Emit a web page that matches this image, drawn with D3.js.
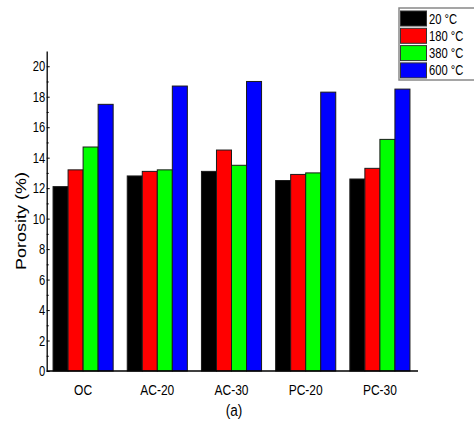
<!DOCTYPE html>
<html>
<head>
<meta charset="utf-8">
<script src="https://cdn.jsdelivr.net/npm/d3@7"></script>
<style>
	body { margin: 0; background: #fff; }
	svg { display: block; font-family: "Liberation Sans", Arial, sans-serif; font-weight: normal; }
</style>
</head>
<body>
<div class="c-svg"></div>
<script>
//DATA
//-------------------------------------------------------------------------

const categories = ["OC", "AC-20", "AC-30", "PC-20", "PC-30"];
const seriesNames = ["20 °C", "180 °C", "380 °C", "600 °C"];
const seriesColors = ["#000000", "#ff0000", "#00ff00", "#0000ff"];

const t20 = [12.1, 12.8, 13.1, 12.5, 12.6];
const t180 = [13.2, 13.1, 14.5, 12.9, 13.3];
const t380 = [14.7, 13.2, 13.5, 13.0, 15.2];
const t600 = [17.5, 18.7, 19.0, 18.3, 18.5];

const yMajorTicks = [0, 2, 4, 6, 8, 10, 12, 14, 16, 18, 20];
const yMinorTicks = [1, 3, 5, 7, 9, 11, 13, 15, 17, 19];

const seriesValues = [t20, t180, t380, t600];

//squeeze factor of the original picture text
const sx = 0.8;

//INITIALISATION
//-------------------------------------------------------------------------

const width = 474, height = 423;

const svg = d3.select(".c-svg")
	.append("svg")
	.attr("width", width)
	.attr("height", height);

const x0 = d3.scaleBand()
	.domain(categories)
	.range([46, 417])
	.paddingInner(0.19)
	.paddingOuter(0.095);

const x1 = d3.scaleBand()
	.domain(seriesNames)
	.range([0, x0.bandwidth()]);

const y = d3.scaleLinear()
	.domain([0, 21])
	.range([371, 51]);

//BARS
//-------------------------------------------------------------------------

const groups = svg.append("g")
	.selectAll("g")
	.data(categories)
	.join("g")
	.attr("transform", (d) => `translate(${x0(d)},0)`);

groups.selectAll("rect")
	.data((d, i) => seriesNames.map((s, j) => ({ s: s, v: seriesValues[j][i], c: seriesColors[j] })))
	.join("rect")
	.attr("x", (d) => x1(d.s))
	.attr("y", (d) => y(d.v))
	.attr("width", x1.bandwidth())
	.attr("height", (d) => y(0) - y(d.v))
	.attr("fill", (d) => d.c)
	.attr("stroke", "#1a1a1a")
	.attr("stroke-width", 1);

//AXES
//-------------------------------------------------------------------------

const yAxis = svg.append("g")
	.attr("transform", "translate(46.7,0)")
	.call(d3.axisLeft(y).tickValues(yMajorTicks).tickSizeInner(-3).tickSizeOuter(0).tickPadding(2));

yAxis.select(".domain").attr("stroke", "#000").attr("stroke-width", 1.3);
yAxis.selectAll(".tick line").attr("stroke", "#000");
yAxis.selectAll("text")
	.attr("font-size", 14)
	.attr("font-family", "Liberation Sans, Arial, sans-serif")
	.attr("fill", "#000")
	.attr("transform", `scale(${sx},1)`);

svg.append("g")
	.attr("transform", "translate(46.7,0)")
	.call(d3.axisLeft(y).tickValues(yMinorTicks).tickSize(-2).tickFormat(""))
	.call((g) => g.select(".domain").remove());

//x axis line only
svg.append("line")
	.attr("x1", 46.7)
	.attr("x2", 418)
	.attr("y1", y(0))
	.attr("y2", y(0))
	.attr("stroke", "#000")
	.attr("stroke-width", 1.6);

//category labels
svg.append("g")
	.selectAll("text")
	.data(categories)
	.join("text")
	.attr("transform", (d) => `translate(${x0(d) + x0.bandwidth() / 2},395) scale(${sx},1)`)
	.attr("text-anchor", "middle")
	.attr("font-size", 15)
	.text((d) => d);

//axis title
svg.append("text")
	.attr("transform", `translate(26,221) scale(${sx},1) rotate(-90)`)
	.attr("text-anchor", "middle")
	.attr("font-size", 18)
	.text("Porosity (%)");

//caption
svg.append("text")
	.attr("transform", `translate(234,416) scale(${sx},1)`)
	.attr("text-anchor", "middle")
	.attr("font-size", 17)
	.text("(a)");

//LEGEND
//-------------------------------------------------------------------------

const legend = svg.append("g").attr("transform", "translate(399,8)");

legend.append("rect")
	.attr("x", 0)
	.attr("y", 0)
	.attr("width", 80)
	.attr("height", 72)
	.attr("fill", "#fff")
	.attr("stroke", "#888")
	.attr("stroke-width", 1.5);

const rows = legend.selectAll(".row")
	.data(seriesNames)
	.join("g")
	.attr("class", "row")
	.attr("transform", (d, i) => `translate(0,${3 + i * 17.3})`);

rows.append("rect")
	.attr("x", 1.5)
	.attr("width", 26)
	.attr("height", 15)
	.attr("fill", (d, i) => seriesColors[i])
	.attr("stroke", "#333")
	.attr("stroke-width", 1);

rows.append("text")
	.attr("transform", `translate(30,12.5) scale(${sx},1)`)
	.attr("font-size", 14)
	.text((d) => d);
</script>
</body>
</html>
